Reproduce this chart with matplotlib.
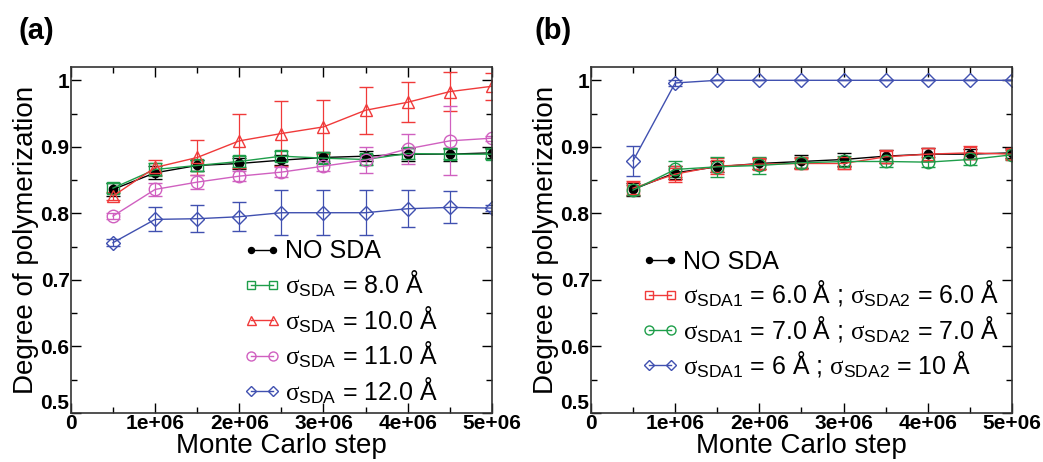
"""
Degree of polymerization vs Monte Carlo step, panels (a) and (b)
"""

import numpy as np
import matplotlib.pyplot as plt
from matplotlib.lines import Line2D
from matplotlib.ticker import MultipleLocator, FuncFormatter

# DATA
steps = [0.5e6, 1e6, 1.5e6, 2e6, 2.5e6, 3e6, 3.5e6, 4e6, 4.5e6, 5e6]

# panel (a)
a_nosda = [0.836, 0.861, 0.872, 0.875, 0.880, 0.884, 0.886, 0.889, 0.889, 0.891]
a_nosda_err = [0.010, 0.010, 0.008, 0.008, 0.008, 0.008, 0.008, 0.010, 0.010, 0.008]
a_s8 = [0.838, 0.866, 0.872, 0.878, 0.886, 0.883, 0.881, 0.890, 0.889, 0.889]
a_s8_err = [0.008, 0.010, 0.008, 0.008, 0.008, 0.008, 0.008, 0.008, 0.008, 0.008]
a_s10 = [0.826, 0.869, 0.884, 0.909, 0.920, 0.930, 0.955, 0.967, 0.983, 0.991]
a_s10_err = [0.006, 0.011, 0.027, 0.041, 0.049, 0.041, 0.035, 0.030, 0.029, 0.020]
a_s11 = [0.796, 0.836, 0.847, 0.856, 0.862, 0.871, 0.880, 0.897, 0.909, 0.913]
a_s11_err = [0.004, 0.010, 0.010, 0.008, 0.008, 0.008, 0.020, 0.023, 0.052, 0.004]
a_s12 = [0.756, 0.791, 0.792, 0.795, 0.801, 0.801, 0.801, 0.807, 0.809, 0.808]
a_s12_err = [0.005, 0.018, 0.020, 0.022, 0.034, 0.034, 0.034, 0.028, 0.024, 0.004]

# panel (b)
b_nosda = [0.836, 0.861, 0.870, 0.875, 0.878, 0.881, 0.886, 0.889, 0.889, 0.891]
b_nosda_err = [0.010, 0.010, 0.008, 0.008, 0.010, 0.010, 0.010, 0.010, 0.008, 0.008]
b_s66 = [0.838, 0.859, 0.871, 0.874, 0.875, 0.875, 0.885, 0.889, 0.891, 0.889]
b_s66_err = [0.010, 0.012, 0.012, 0.008, 0.008, 0.008, 0.010, 0.010, 0.010, 0.008]
b_s77 = [0.835, 0.866, 0.870, 0.872, 0.876, 0.878, 0.878, 0.877, 0.881, 0.888]
b_s77_err = [0.008, 0.012, 0.015, 0.013, 0.008, 0.008, 0.008, 0.008, 0.008, 0.008]
b_s610 = [0.879, 0.996, 1.0, 1.0, 1.0, 1.0, 1.0, 1.0, 1.0, 1.0]
b_s610_err = [0.023, 0.005, 0, 0, 0, 0, 0, 0, 0, 0]

yticks = [0.5, 0.6, 0.7, 0.8, 0.9, 1.0]
ytick_labels = ["0.5", "0.6", "0.7", "0.8", "0.9", "1"]
xticks = [0, 1e6, 2e6, 3e6, 4e6, 5e6]
xtick_labels = ["0", "1e+06", "2e+06", "3e+06", "4e+06", "5e+06"]

labels_a = ["NO SDA",
            r"$\sigma_{\mathsf{SDA}}$ = 8.0 Å",
            r"$\sigma_{\mathsf{SDA}}$ = 10.0 Å",
            r"$\sigma_{\mathsf{SDA}}$ = 11.0 Å",
            r"$\sigma_{\mathsf{SDA}}$ = 12.0 Å"]
labels_b = ["NO SDA",
            r"$\sigma_{\mathsf{SDA1}}$ = 6.0 Å ; $\sigma_{\mathsf{SDA2}}$ = 6.0 Å",
            r"$\sigma_{\mathsf{SDA1}}$ = 7.0 Å ; $\sigma_{\mathsf{SDA2}}$ = 7.0 Å",
            r"$\sigma_{\mathsf{SDA1}}$ = 6 Å ; $\sigma_{\mathsf{SDA2}}$ = 10 Å"]

BLACK = "black"
RED = "#f03a3a"
GREEN = "#1e9e4a"
MAGENTA = "#d060c0"
BLUE = "#4050b0"

plt.rcParams['font.family'] = ['Liberation Sans', 'DejaVu Sans']
plt.rcParams['mathtext.fontset'] = 'custom'
plt.rcParams['mathtext.rm'] = 'Liberation Sans'
plt.rcParams['mathtext.sf'] = 'Liberation Sans'
plt.rcParams['mathtext.it'] = 'Liberation Serif'

SIZES = {'o': 9, 's': 8.5, '^': 9, 'D': 7.5}


def draw(ax, y, err, color, marker, filled=False):
    ms = 6 if filled else SIZES[marker]
    ax.errorbar(steps, y, yerr=err, color=color, marker=marker, markersize=ms,
                markerfacecolor=color if filled else 'none', markeredgecolor=color,
                markeredgewidth=1.0, linewidth=1.0, elinewidth=0.9, capsize=5,
                capthick=0.9)
    return Line2D([], [], color=color, marker=marker, markersize=ms * 0.72,
                  markerfacecolor=color if filled else 'none',
                  markeredgecolor=color, linewidth=1.0)


def style(ax):
    ax.set_xlim(0, 5e6)
    ax.set_ylim(0.5, 1.02)
    ax.set_xticks(xticks, labels=xtick_labels)
    ax.set_yticks(yticks, labels=ytick_labels)
    ax.xaxis.set_minor_locator(MultipleLocator(0.5e6))
    ax.yaxis.set_minor_locator(MultipleLocator(0.05))
    ax.tick_params(which='both', direction='in', top=True, right=True, width=1.0)
    ax.tick_params(which='major', length=7, labelsize=15, pad=1)
    ax.tick_params(which='minor', length=4)
    for lab in ax.get_xticklabels() + ax.get_yticklabels():
        lab.set_fontweight('bold')
    # lift the "0.5" label off the corner, as in the original
    ax.get_yticklabels()[0].set_verticalalignment('bottom')
    for sp in ax.spines.values():
        sp.set_linewidth(1.2)
        sp.set_color('#333333')
    ax.set_xlabel("Monte Carlo step", fontsize=20, labelpad=0)
    ax.set_ylabel("Degree of polymerization", fontsize=20, labelpad=1)


fig = plt.figure(figsize=(10.43, 4.62), dpi=100)
ax1 = fig.add_axes([0.068, 0.106, 0.4036, 0.749])
ax2 = fig.add_axes([0.5666, 0.106, 0.4036, 0.749])

h1 = [draw(ax1, a_nosda, a_nosda_err, BLACK, 'o', filled=True),
      draw(ax1, a_s8, a_s8_err, GREEN, 's'),
      draw(ax1, a_s10, a_s10_err, RED, '^'),
      draw(ax1, a_s11, a_s11_err, MAGENTA, 'o'),
      draw(ax1, a_s12, a_s12_err, BLUE, 'D')]
style(ax1)
ax1.legend(h1, labels_a, loc='lower left', bbox_to_anchor=(0.38, -0.015),
           frameon=False, fontsize=18, numpoints=2, handlelength=1.5,
           handletextpad=0.15, labelspacing=0.2, borderaxespad=0.1)

h2 = [draw(ax2, b_nosda, b_nosda_err, BLACK, 'o', filled=True),
      draw(ax2, b_s66, b_s66_err, RED, 's'),
      draw(ax2, b_s77, b_s77_err, GREEN, 'o'),
      draw(ax2, b_s610, b_s610_err, BLUE, 'D')]
style(ax2)
ax2.legend(h2, labels_b, loc='lower left', bbox_to_anchor=(0.09, 0.06),
           frameon=False, fontsize=18, numpoints=2, handlelength=1.5,
           handletextpad=0.15, labelspacing=0.2, borderaxespad=0.1)

fig.text(0.018, 0.915, "(a)", fontsize=21, fontweight='bold')
fig.text(0.512, 0.915, "(b)", fontsize=21, fontweight='bold')

plt.savefig("out.png", dpi=100)
